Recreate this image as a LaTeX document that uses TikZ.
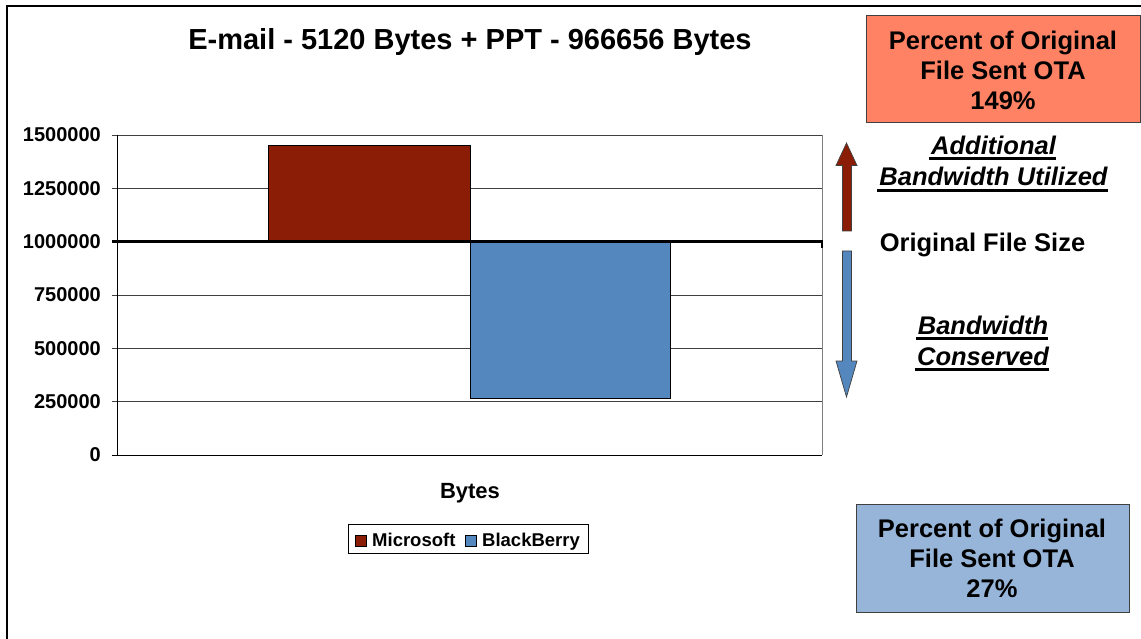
\documentclass[tikz,border=0pt]{standalone}
\usepackage{fontspec}
\setmainfont{Liberation Sans}
\definecolor{msred}{HTML}{8B1C05}
\definecolor{bbblue}{HTML}{5587BF}
\definecolor{salmon}{HTML}{FF8264}
\definecolor{paleblue}{HTML}{97B5D9}
\definecolor{gridgray}{HTML}{404040}
\begin{document}
\begin{tikzpicture}[x=1pt,y=-1pt,
  ticklbl/.style={anchor=east,font=\bfseries\fontsize{20}{22}\selectfont,inner sep=0pt},
  boxtext/.style={align=center,font=\bfseries\fontsize{25.5}{30}\selectfont},
  emtext/.style={anchor=base,inner sep=0pt,font=\bfseries\itshape\fontsize{25.5}{31}\selectfont},
  legtext/.style={anchor=base west,inner sep=0pt,font=\bfseries\fontsize{18.5}{22}\selectfont},
  uline/.style={line width=2.8pt},
  bar/.style={draw=black,line width=0.8pt},
  grid/.style={draw=gridgray,line width=0.8pt}]
\useasboundingbox (0,0) rectangle (1141,639);
\fill[white] (0,0) rectangle (1141,639);
% outer frame
\draw[line width=1.2pt] (7,639) -- (7,6) -- (1141,6);
% title
\node[font=\bfseries\fontsize{29}{34}\selectfont] (title) at (470,42) {E-mail - 5120 Bytes + PPT - 966656 Bytes};
% gridlines
\draw[grid] (112,135) -- (822,135);
\draw[grid] (112,188.3) -- (822,188.3);
\draw[grid] (112,295) -- (822,295);
\draw[grid] (112,348.3) -- (822,348.3);
\draw[grid] (112,401.7) -- (822,401.7);
\draw[draw=gray,line width=1pt] (822,135) -- (822,455);
% bars
\draw[bar,fill=msred] (268,145.7) rectangle (470,241.7);
\draw[bar,fill=bbblue] (470,241.7) rectangle (670,398.7);
% axes
\draw[line width=1pt] (117,135) -- (117,455);
\draw[line width=1pt] (112,455) -- (822,455);
\draw[line width=2.4pt] (112,241.7) -- (822,241.7);
\draw[line width=2pt] (822,240.5) -- (822,248);
% tick labels
\node[ticklbl] (t1500) at (101,135) {1500000};
\node[ticklbl] (t1250) at (101,188.3) {1250000};
\node[ticklbl] (t1000) at (101,241.7) {1000000};
\node[ticklbl] (t750) at (101,295) {750000};
\node[ticklbl] (t500) at (101,348.3) {500000};
\node[ticklbl] (t250) at (101,401.7) {250000};
\node[ticklbl] (t0) at (101,455) {0};
% x label
\node[font=\bfseries\fontsize{22}{26}\selectfont] (xlbl) at (470,493) {Bytes};
% legend
\draw[line width=0.8pt] (348,524) rectangle (588,553);
\draw[fill=msred,line width=0.6pt] (355,535) rectangle (366,546);
\node[legtext] (lms) at (372,546.5) {Microsoft};
\draw[fill=bbblue,line width=0.6pt] (465,535) rectangle (476,546);
\node[legtext] (lbb) at (482,546.5) {BlackBerry};
% right boxes
\draw[fill=salmon,draw=gridgray,line width=1pt] (866,16) rectangle (1140,123);
\node[boxtext] (redbox) at (1003,70) {Percent of Original\\File Sent OTA\\149\%};
\draw[fill=paleblue,draw=gridgray,line width=1pt] (856,504) rectangle (1129,612);
\node[boxtext] (bluebox) at (992,558) {Percent of Original\\File Sent OTA\\27\%};
% arrows
\draw[fill=msred,draw=gridgray,line width=0.7pt] (842.5,231) -- (842.5,165.5) -- (836,165.5) -- (846.5,143) -- (857,165.5) -- (851.5,165.5) -- (851.5,231) -- cycle;
\draw[fill=bbblue,draw=gridgray,line width=0.7pt] (842.5,251) -- (842.5,361) -- (836,361) -- (846.5,397) -- (857,361) -- (851.5,361) -- (851.5,251) -- cycle;
% labels
\node[emtext] (add1) at (993.5,155) {Additional};
\node[emtext] (add2) at (993.5,186) {Bandwidth Utilized};
\draw[uline] ([xshift=-2pt]add1.base west |- 0,158.5) -- ([xshift=0pt]add1.base east |- 0,158.5);
\draw[uline] ([xshift=-2pt]add2.base west |- 0,190.5) -- ([xshift=0pt]add2.base east |- 0,190.5);
\node[boxtext] (orig) at (982.5,245) {Original File Size};
\node[emtext] (cons1) at (983,334) {Bandwidth};
\node[emtext] (cons2) at (983,365) {Conserved};
\draw[uline] ([xshift=-2pt]cons1.base west |- 0,338.5) -- ([xshift=0pt]cons1.base east |- 0,338.5);
\draw[uline] ([xshift=-2pt]cons2.base west |- 0,369.5) -- ([xshift=0pt]cons2.base east |- 0,369.5);
\end{tikzpicture}
\end{document}
